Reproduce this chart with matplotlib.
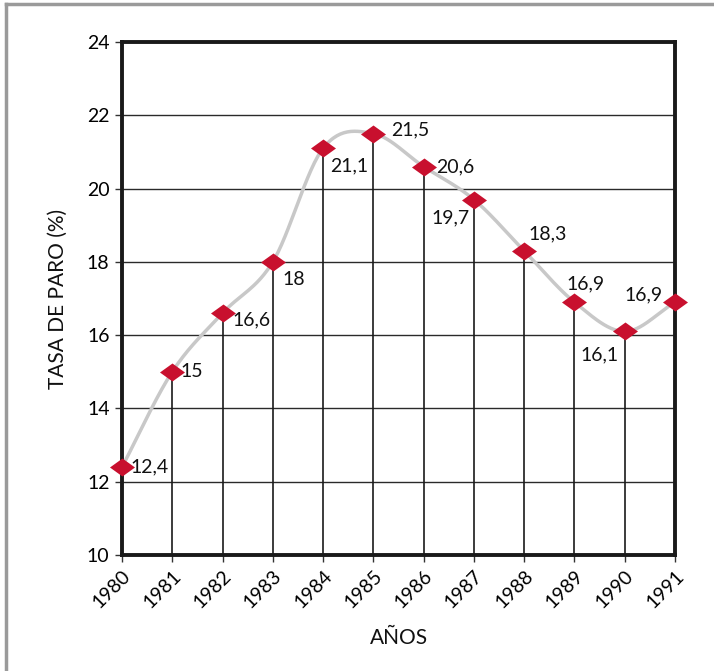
import numpy as np
import matplotlib
matplotlib.use("Agg")
import matplotlib.pyplot as plt
from matplotlib.path import Path
from matplotlib.lines import Line2D

years = [1980, 1981, 1982, 1983, 1984, 1985, 1986, 1987, 1988, 1989, 1990, 1991]
rates = [12.4, 15.0, 16.6, 18.0, 21.1, 21.5, 20.6, 19.7, 18.3, 16.9, 16.1, 16.9]
value_labels = ["12,4", "15", "16,6", "18", "21,1", "21,5", "20,6", "19,7", "18,3", "16,9", "16,1", "16,9"]
y_ticks = [10, 12, 14, 16, 18, 20, 22, 24]
y_ticklabels = ["10", "12", "14", "16", "18", "20", "22", "24"]

# label offsets in points (dx, dy, ha, va)
offsets = [(6, 0, "left", "center"), (6, 0, "left", "center"), (7, -5, "left", "center"),
           (7, -13, "left", "center"), (5, -13, "left", "center"), (13, 3, "left", "center"),
           (9, 0, "left", "center"), (-3, -13, "right", "center"), (3, 12, "left", "center"),
           (8, 13, "center", "center"), (-18, -17, "center", "center"), (-9, 5, "right", "center")]

plt.rcParams['font.family'] = ['Lato', 'DejaVu Sans']

fig = plt.figure(figsize=(7.14, 6.71), dpi=100)
ax = fig.add_axes([122/714, 1-555/671, 553/714, 513/671])

# figure border (top and left)
fig.add_artist(Line2D([6/714, 1.0], [1-4/671, 1-4/671], transform=fig.transFigure, color="#9a9a9a", lw=2.5))
fig.add_artist(Line2D([6/714, 6/714], [0, 1-4/671], transform=fig.transFigure, color="#9a9a9a", lw=2.5))

x = np.array(years, dtype=float)
y = np.array(rates, dtype=float)

# Catmull-Rom smoothing of the series for the gray line
def catmull(xp, yp, n=30):
    px = np.concatenate([[2*xp[0]-xp[1]], xp, [2*xp[-1]-xp[-2]]])
    py = np.concatenate([[2*yp[0]-yp[1]], yp, [2*yp[-1]-yp[-2]]])
    xs, ys = [], []
    t = np.linspace(0, 1, n)
    for i in range(1, len(px)-2):
        p0, p1, p2, p3 = [np.array([px[j], py[j]]) for j in range(i-1, i+3)]
        for tt in t:
            pt = 0.5*((2*p1) + (-p0+p2)*tt + (2*p0-5*p1+4*p2-p3)*tt**2 + (-p0+3*p1-3*p2+p3)*tt**3)
            xs.append(pt[0]); ys.append(pt[1])
    return np.array(xs), np.array(ys)

sx, sy = catmull(x, y)

for yt in y_ticks[1:-1]:
    ax.axhline(yt, color="#2a2a2a", lw=1.0, zorder=1)

ax.vlines(x, 10, y, color="#1a1a1a", lw=1.2, zorder=2)
ax.plot(sx, sy, color="#c8c8c8", lw=2.5, zorder=3, solid_capstyle="round")

diamond = Path([(-1, 0), (0, 0.72), (1, 0), (0, -0.72), (-1, 0)],
               [Path.MOVETO, Path.LINETO, Path.LINETO, Path.LINETO, Path.CLOSEPOLY])
ax.plot(x, y, linestyle="none", marker=diamond, markersize=18, color="#c8102e",
        markeredgewidth=0, zorder=4, clip_on=False)

for xi, yi, lab, (dx, dy, ha, va) in zip(x, y, value_labels, offsets):
    ax.annotate(lab, (xi, yi), xytext=(dx, dy), textcoords="offset points",
                ha=ha, va=va, fontsize=14, color="#111111", zorder=5)

ax.set_xlim(1980, 1991)
ax.set_ylim(10, 24)
ax.set_yticks(y_ticks)
ax.set_yticklabels(y_ticklabels, fontsize=14)
ax.set_xticks(years)
ax.set_xticklabels([str(v) for v in years], rotation=45, ha="right", va="top",
                   rotation_mode="anchor", fontsize=14)
ax.tick_params(axis="both", direction="out", length=5, width=1, color="#333333", pad=4)
for s in ax.spines.values():
    s.set_linewidth(2.8)
    s.set_color("#1a1a1a")
ax.set_ylabel("TASA DE PARO (%)", fontsize=15, labelpad=14, color="#111111")
ax.set_xlabel("AÑOS", fontsize=15, labelpad=12, color="#111111")

fig.savefig("out.png", dpi=100)
